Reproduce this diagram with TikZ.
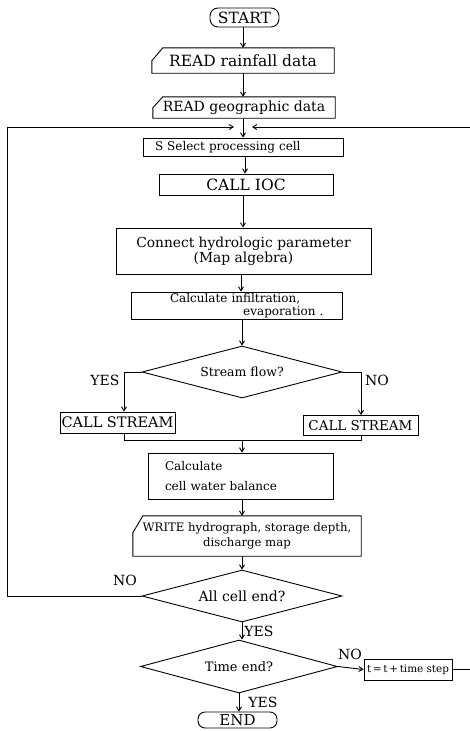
\documentclass[tikz,border=0pt]{standalone}
\usepackage{fontspec}
\setmainfont{DejaVu Serif}
\usetikzlibrary{shapes.geometric,arrows.meta}
\newcommand\fsz[2]{\fontsize{#1}{#2}\selectfont}
\begin{document}
\begin{tikzpicture}[x=1pt,y=-1pt,
  line/.style={line width=0.9pt},
  arr/.style={line width=0.9pt,-{Straight Barb[length=4pt,width=5pt]}},
  term/.style={draw,line width=0.9pt,rounded corners=8pt,inner sep=0pt},
  pbox/.style={draw,line width=0.9pt,inner sep=0pt},
  card/.style={inner sep=0pt},
  decision/.style={diamond,draw,line width=0.9pt,inner sep=0pt,shape aspect=3.8,
    minimum width=200pt,minimum height=52pt},
  lbl/.style={inner sep=0pt,font=\fsz{14}{16}}
]
\useasboundingbox (0,0) rectangle (469,731);

% nodes
\node[term,minimum width=69pt,minimum height=19pt,font=\fsz{15.5}{17}] (start) at (244.5,17.5) {START};
\node[card,minimum width=182pt,minimum height=25pt,font=\fsz{15.5}{17}] (r1) at (243,60.5) {READ rainfall data};
\node[card,minimum width=182pt,minimum height=21pt,font=\fsz{14}{16}] (r2) at (244,107.5) {READ geographic data};
\node[pbox,minimum width=200pt,minimum height=18pt,text width=176pt,inner xsep=12pt,align=left,font=\fsz{12}{14}] (sel) at (243,147) {S Select processing cell};
\node[pbox,minimum width=174pt,minimum height=21pt,font=\fsz{15.5}{17}] (ioc) at (246,184.5) {CALL IOC};
\node[pbox,minimum width=255pt,minimum height=46pt,align=center,font=\fsz{13.8}{15}] (conn) at (243.5,251) {Connect hydrologic parameter\\(Map algebra)};
\node[pbox,minimum width=211pt,minimum height=27pt,text width=174pt,inner xsep=18.5pt,align=left,font=\fsz{12}{12.5}] (infil) at (236.5,305.5) {\mbox{\hspace*{20.5pt}Calculate infiltration,}\\\mbox{}\hfill\mbox{evaporation .}};
\node[decision,font=\fsz{12.5}{14}] (stream) at (242,372) {Stream flow?};
\node[pbox,minimum width=115pt,minimum height=21pt,font=\fsz{14.5}{16}] (csl) at (117.5,422.5) {CALL STREAM};
\node[pbox,minimum width=115pt,minimum height=20pt,font=\fsz{13.5}{15}] (csr) at (360.5,425.5) {CALL STREAM};
\node[pbox,minimum width=185pt,minimum height=46pt,text width=151pt,inner xsep=17pt,align=left,font=\fsz{12}{20}] (bal) at (240.5,476) {Calculate\\cell water balance};
\node[card,minimum width=228pt,minimum height=40pt,align=center,font=\fsz{11.7}{15}] (wr) at (247,536) {WRITE hydrograph, storage depth,\\discharge map};
\node[decision,font=\fsz{14}{16}] (all) at (242,596) {All cell end?};
\node[decision,minimum width=197pt,minimum height=53pt,font=\fsz{13}{15}] (time) at (239,666.5) {Time end?};
\node[pbox,minimum width=88pt,minimum height=21pt,font=\fsz{10.4}{12}] (tb) at (408,669.5) {t\,=\,t\,+\,time step};
\node[term,minimum width=79pt,minimum height=16pt,rounded corners=7pt,font=\fsz{15}{16}] (end) at (237.5,720) {END};

% labels
\node[lbl] (yes1) at (105,380) {YES};
\node[lbl] (no1) at (377,380) {NO};
\node[lbl] (no2) at (125,580) {NO};
\node[lbl] (yes2) at (259,631) {YES};
\node[lbl] (no3) at (350,654) {NO};
\node[lbl] (yes3) at (263,702) {YES};

% card outlines
\draw[line] ([yshift=-13pt]r1.north west) -- ([xshift=11pt]r1.north west) -- (r1.north east) -- (r1.south east) -- (r1.south west) -- cycle;
\draw[line] ([yshift=-11pt]r2.north west) -- ([xshift=10pt]r2.north west) -- (r2.north east) -- (r2.south east) -- (r2.south west) -- cycle;
\draw[line] ([yshift=-17pt]wr.north west) -- ([xshift=10pt]wr.north west) -- (wr.north east) -- (wr.south east) -- (wr.south west) -- cycle;

% coordinates
\coordinate (jl) at (234,127);
\coordinate (jr) at (252,127);
\coordinate (lx) at (7,127);
\coordinate (rx) at (476,127);
\coordinate (yc) at (124,372);
\coordinate (nc) at (361,372);
\coordinate (mg) at (242,440);

% connectors
\draw[arr] (start.south -| 243,0) -- (243,0 |- r1.north);
\draw[arr] (r1.south -| 243,0) -- (243,0 |- r2.north);
\draw[arr] (r2.south -| 243,0) -- (243,0 |- sel.north);
\draw[arr] (sel.south -| 245,0) -- (245,0 |- ioc.north);
\draw[arr] (ioc.south -| 243,0) -- (243,0 |- conn.north);
\draw[arr] (conn.south -| 241,0) -- (241,0 |- infil.north);
\draw[arr] (infil.south -| 242,0) -- (stream.north);
\draw[line] (stream.west) -- (yc);
\draw[arr] (yc) -- (yc |- csl.north);
\draw[line] (stream.east) -- (nc);
\draw[arr] (nc) -- (nc |- csr.north);
\draw[line] (yc |- csl.south) -- (yc |- mg) -- (nc |- mg) -- (nc |- csr.south);
\draw[arr] (mg) -- (mg |- bal.north);
\draw[arr] (bal.south -| 242,0) -- (242,0 |- wr.north);
\draw[arr] (wr.south -| 242,0) -- (all.north);
\draw[arr] (all.west) -- (lx |- all.west) -- (lx) -- (jl);
\draw[arr] (all.south) -- (all.south |- time.north);
\draw[arr] (time.east) -- (tb.west);
\draw[arr] (tb.east) -- (rx |- tb.east) -- (rx) -- (jr);
\draw[arr] (time.south) -- (time.south |- end.north);
\end{tikzpicture}
\end{document}
